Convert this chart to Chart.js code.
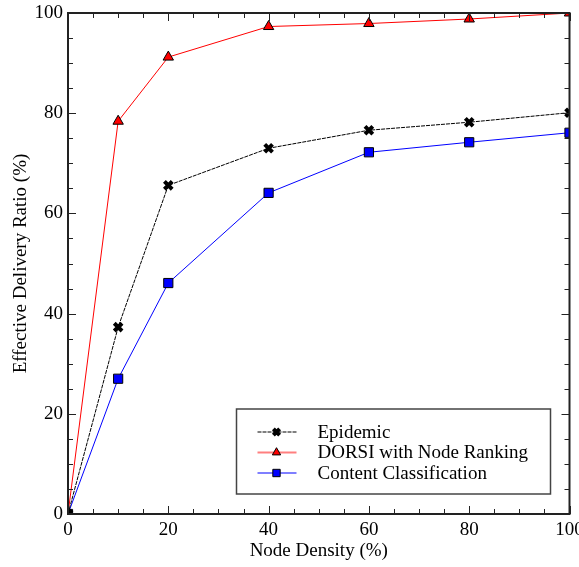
<!DOCTYPE html>
<html lang="en">
<head>
<meta charset="UTF-8">
<title>Effective Delivery Ratio</title>
<script src="https://cdn.jsdelivr.net/npm/chart.js"></script>
<style>
  html, body { margin: 0; padding: 0; background: #fff; }
  #wrap { width: 579px; height: 567px; }
</style>
</head>
<body>
<div id="wrap"><canvas id="edrChart"></canvas></div>
<script>
  // values
  const nodeDensity = [0, 10, 20, 40, 60, 80, 100];
  const epidemic = [0, 37.3, 65.6, 73.0, 76.6, 78.2, 80.1];
  const dorsi = [0, 78.4, 91.2, 97.3, 97.9, 98.8, 100];
  const contentClass = [0, 27.0, 46.1, 64.1, 72.2, 74.2, 76.1];
  const xTickLabels = [0, 20, 40, 60, 80, 100];
  const yTickLabels = [0, 20, 40, 60, 80, 100];

  const FONT = 'Liberation Serif';

  function toPoints(vals) {
    return nodeDensity.map((x, i) => ({ x: x, y: vals[i] }));
  }

  // frame around the plot with inward ticks on all four sides
  const frameTicks = {
    id: 'frameTicks',
    afterDatasetsDraw(chart) {
      const { ctx, chartArea: a, scales: { x, y } } = chart;
      ctx.save();
      ctx.strokeStyle = '#222';
      ctx.lineWidth = 1;
      for (let v = 0; v <= 100; v += 5) {
        const len = xTickLabels.includes(v) ? 8 : 5;
        const px = Math.round(x.getPixelForValue(v)) + 0.5;
        const py = Math.round(y.getPixelForValue(v)) + 0.5;
        ctx.beginPath();
        ctx.moveTo(px, a.bottom); ctx.lineTo(px, a.bottom - len);
        ctx.moveTo(px, a.top); ctx.lineTo(px, a.top + len);
        ctx.moveTo(a.left, py); ctx.lineTo(a.left + len, py);
        ctx.moveTo(a.right, py); ctx.lineTo(a.right - len, py);
        ctx.stroke();
      }
      ctx.lineWidth = 2;
      ctx.strokeRect(a.left, a.top, a.right - a.left, a.bottom - a.top);
      ctx.restore();
    }
  };

  // legend box inside the plot, lower right
  const innerLegend = {
    id: 'innerLegend',
    afterDraw(chart) {
      const { ctx, chartArea: a } = chart;
      const bx = a.right - 333, by = a.bottom - 105, bw = 314, bh = 85;
      ctx.save();
      ctx.fillStyle = '#fff';
      ctx.fillRect(bx, by, bw, bh);
      ctx.strokeStyle = '#444';
      ctx.lineWidth = 1.5;
      ctx.strokeRect(bx, by, bw, bh);
      ctx.font = '19px "' + FONT + '"';
      ctx.textBaseline = 'middle';
      chart.data.datasets.forEach((ds, i) => {
        const cy = by + 23 + i * 20.5;
        ctx.globalAlpha = 0.5;
        ctx.strokeStyle = ds.borderColor;
        ctx.lineWidth = 2;
        ctx.setLineDash(ds.borderDash || []);
        ctx.beginPath();
        ctx.moveTo(bx + 21, cy);
        ctx.lineTo(bx + 60, cy);
        ctx.stroke();
        ctx.setLineDash([]);
        ctx.globalAlpha = 1;
        ctx.fillStyle = ds.pointBackgroundColor;
        ctx.strokeStyle = ds.pointBorderColor;
        ctx.lineWidth = ds.pointBorderWidth;
        Chart.helpers.drawPoint(ctx, {
          pointStyle: ds.pointStyle,
          radius: ds.pointRadius * 0.8,
          rotation: 0,
          borderWidth: ds.pointBorderWidth
        }, bx + 40, cy);
        ctx.fillStyle = '#000';
        ctx.fillText(ds.label, bx + 81, cy + 1);
      });
      ctx.restore();
    }
  };

  new Chart(document.getElementById('edrChart'), {
    type: 'line',
    data: {
      datasets: [
        {
          label: 'Epidemic',
          data: toPoints(epidemic),
          borderColor: '#000',
          borderWidth: 1,
          borderDash: [4, 1],
          pointStyle: 'crossRot',
          pointRadius: 5.5,
          pointBorderWidth: 4,
          pointBorderColor: '#000',
          pointBackgroundColor: '#000'
        },
        {
          label: 'DORSI with Node Ranking',
          data: toPoints(dorsi),
          borderColor: '#ff0000',
          borderWidth: 1,
          pointStyle: 'triangle',
          pointRadius: 6,
          pointBorderWidth: 1,
          pointBorderColor: '#000',
          pointBackgroundColor: '#ff0000'
        },
        {
          label: 'Content Classification',
          data: toPoints(contentClass),
          borderColor: '#0000ff',
          borderWidth: 1,
          pointStyle: 'rect',
          pointRadius: 6.5,
          pointBorderWidth: 1,
          pointBorderColor: '#000',
          pointBackgroundColor: '#0000ff'
        }
      ]
    },
    options: {
      responsive: true,
      maintainAspectRatio: false,
      animation: false,
      layout: { padding: { top: 13, right: 9, left: 0, bottom: 0 } },
      plugins: {
        legend: { display: false },
        tooltip: { enabled: false }
      },
      scales: {
        x: {
          type: 'linear',
          min: 0,
          max: 100,
          grid: { display: false, drawTicks: false },
          border: { display: false },
          afterBuildTicks: s => { s.ticks = xTickLabels.map(v => ({ value: v })); },
          afterFit: s => { s.height = 53; s.paddingLeft = 0; s.paddingRight = 0; },
          ticks: { color: '#000', padding: 5, maxRotation: 0, font: { family: FONT, size: 19 } },
          title: {
            display: true,
            text: 'Node Density (%)',
            color: '#000',
            padding: { top: 0, bottom: 5 },
            font: { family: FONT, size: 19 }
          }
        },
        y: {
          type: 'linear',
          min: 0,
          max: 100,
          grid: { display: false, drawTicks: false },
          border: { display: false },
          afterBuildTicks: s => { s.ticks = yTickLabels.map(v => ({ value: v })); },
          afterFit: s => { s.width = 68; s.paddingTop = 0; s.paddingBottom = 0; },
          ticks: { color: '#000', padding: 5, font: { family: FONT, size: 19 } },
          title: {
            display: true,
            text: 'Effective Delivery Ratio (%)',
            color: '#000',
            padding: { top: 10, bottom: 0 },
            font: { family: FONT, size: 19 }
          }
        }
      }
    },
    plugins: [frameTicks, innerLegend]
  });
</script>
</body>
</html>
